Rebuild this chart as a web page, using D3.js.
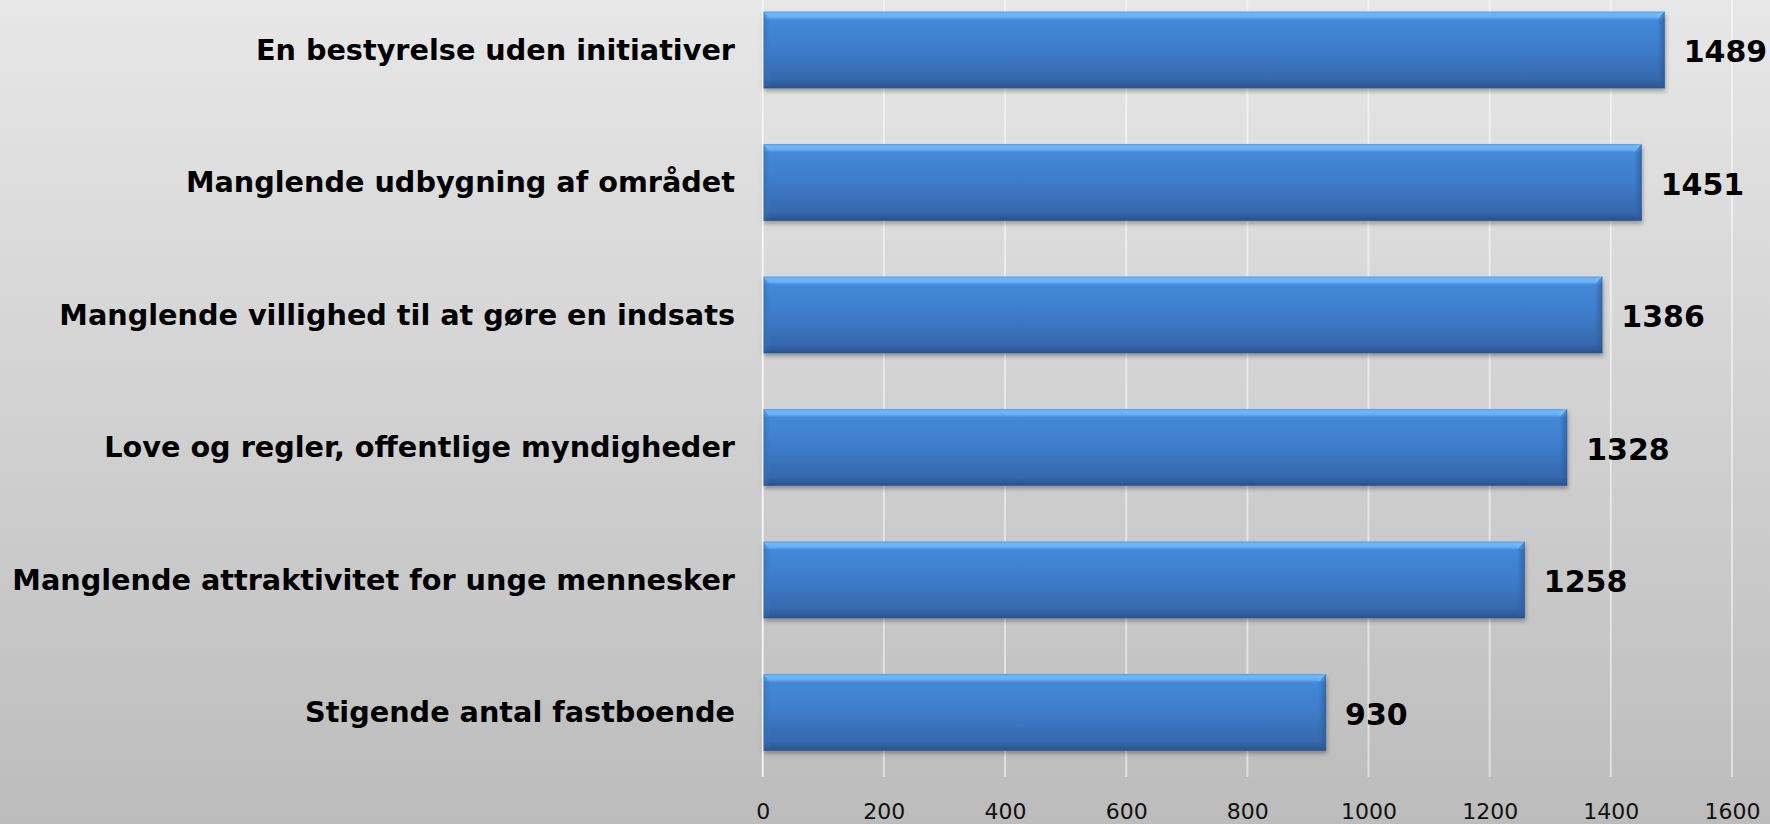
<!DOCTYPE html>
<html><head><meta charset="utf-8">
<script src="https://cdn.jsdelivr.net/npm/d3@7"></script>
<style>
html,body{margin:0;padding:0;overflow:hidden;}
svg{display:block;}
text{font-family:"DejaVu Sans",Verdana,sans-serif;}
</style></head>
<body>
<svg id="chart" width="1770" height="824"></svg>
<script>
const categories = [
  "En bestyrelse uden initiativer",
  "Manglende udbygning af området",
  "Manglende villighed til at gøre en indsats",
  "Love og regler, offentlige myndigheder",
  "Manglende attraktivitet for unge mennesker",
  "Stigende antal fastboende"
];
const values = [1489, 1451, 1386, 1328, 1258, 930];
const tickValues = [0, 200, 400, 600, 800, 1000, 1200, 1400, 1600];

const W = 1770, H = 824;
const svg = d3.select("#chart");
const defs = svg.append("defs");

const bg = defs.append("linearGradient").attr("id","bg").attr("x1",0).attr("y1",0).attr("x2",0).attr("y2",1);
bg.append("stop").attr("offset","0%").attr("stop-color","#e7e7e7");
bg.append("stop").attr("offset","100%").attr("stop-color","#bcbcbc");

const bar = defs.append("linearGradient").attr("id","barg").attr("x1",0).attr("y1",0).attr("x2",0).attr("y2",1);
[["0%","#5b9ee6"],["3%","#6fb6fa"],["7%","#69b0f6"],["11%","#4489d8"],["45%","#3e7ecd"],["88%","#3669ae"],["94%","#305d9b"],["100%","#29528c"]]
  .forEach(([o,c])=>bar.append("stop").attr("offset",o).attr("stop-color",c));

const lb = defs.append("linearGradient").attr("id","lbev").attr("x1",0).attr("y1",0).attr("x2",1).attr("y2",0);
lb.append("stop").attr("offset","0%").attr("stop-color","#2f65aa").attr("stop-opacity",0.7);
lb.append("stop").attr("offset","100%").attr("stop-color","#3d7dcb").attr("stop-opacity",0.0);

const rb = defs.append("linearGradient").attr("id","rbev").attr("x1",0).attr("y1",0).attr("x2",1).attr("y2",0);
rb.append("stop").attr("offset","0%").attr("stop-color","#2f62a6").attr("stop-opacity",0.0);
rb.append("stop").attr("offset","100%").attr("stop-color","#2a5592").attr("stop-opacity",0.7);

const sh = defs.append("filter").attr("id","shadow").attr("x","-5%").attr("y","-20%").attr("width","110%").attr("height","150%");
sh.append("feDropShadow").attr("dx",1).attr("dy",3).attr("stdDeviation",2).attr("flood-color","#000").attr("flood-opacity",0.3);

svg.append("rect").attr("width",W).attr("height",H).attr("fill","url(#bg)");

const x = d3.scaleLinear().domain([0,1600]).range([762.7, 1732]);
const y = d3.scaleBand().domain(categories).range([-16.3, 778.6]).paddingInner(0.42).paddingOuter(0.21);

// gridlines
svg.append("g").selectAll("line").data(tickValues).join("line")
  .attr("x1", d=>x(d)).attr("x2", d=>x(d))
  .attr("y1", 0).attr("y2", 777)
  .attr("stroke","#ffffff").attr("stroke-opacity",0.5).attr("stroke-width",2);

// axis
const axis = d3.axisBottom(x).tickValues(tickValues).tickSize(0).tickPadding(0).tickFormat(d3.format("d"));
const ag = svg.append("g").attr("transform","translate(0,803)").call(axis);
ag.select(".domain").remove();
ag.selectAll("text").attr("font-size",22).attr("fill","#111").attr("dy","0.71em")
  .style("font-family","'DejaVu Sans',Verdana,sans-serif");

// bars
const bw = y.bandwidth();
const bev = 8;
const g = svg.append("g").selectAll("g").data(categories).join("g");
g.append("rect")
  .attr("x", x(0)).attr("y", d=>y(d))
  .attr("width", (d,i)=>x(values[i])-x(0)).attr("height", bw)
  .attr("fill","url(#barg)").attr("filter","url(#shadow)");
// left bevel
g.append("path").attr("d", d=>{
  const x0=x(0), y0=y(d), y1=y0+bw;
  return `M${x0},${y0}L${x0+bev},${y0+bev}L${x0+bev},${y1-3}L${x0},${y1}Z`;
}).attr("fill","url(#lbev)");
// right bevel
g.append("path").attr("d", (d,i)=>{
  const x1=x(values[i]), y0=y(d), y1=y0+bw;
  return `M${x1},${y0}L${x1-bev},${y0+bev}L${x1-bev},${y1-3}L${x1},${y1}Z`;
}).attr("fill","url(#rbev)");
// top-right bevel highlight
g.append("path").attr("d", (d,i)=>{
  const x1=x(values[i]), y0=y(d);
  return `M${x1},${y0}L${x1-bev},${y0+bev}L${x1-bev},${y0+3}L${x1-3},${y0}Z`;
}).attr("fill","#7fc0ff").attr("opacity",0.45);

// axis line at zero
svg.append("line").attr("x1",x(0)).attr("x2",x(0)).attr("y1",0).attr("y2",777)
  .attr("stroke","#f4f4f4").attr("stroke-width",1.5);

// category labels
svg.append("g").selectAll("text").data(categories).join("text")
  .attr("x", 735).attr("y", d=>y(d)+bw/2)
  .attr("text-anchor","end").attr("dominant-baseline","central")
  .attr("font-size",28.7).attr("font-weight","bold").attr("fill","#000")
  .text(d=>d);

// value labels
svg.append("g").selectAll("text").data(categories).join("text")
  .attr("x", (d,i)=>x(values[i])+19).attr("y", d=>y(d)+bw/2+2)
  .attr("dominant-baseline","central")
  .attr("font-size",30).attr("font-weight","bold").attr("fill","#000")
  .text((d,i)=>values[i]);
</script>
</body></html>
